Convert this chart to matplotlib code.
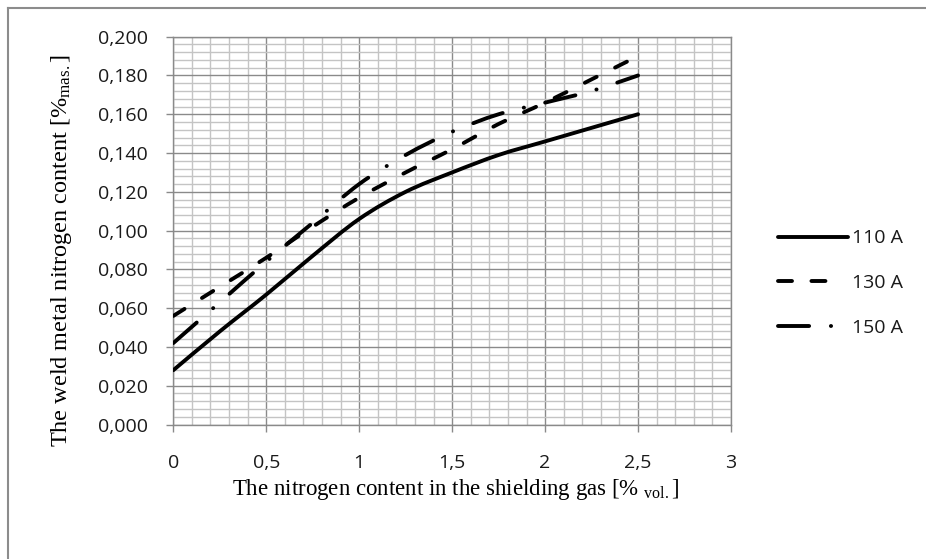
import matplotlib
matplotlib.use("Agg")
import matplotlib.pyplot as plt
from matplotlib.lines import Line2D
from matplotlib.patches import PathPatch
from matplotlib.path import Path
from matplotlib.ticker import MultipleLocator, FuncFormatter

# data
nitrogen_gas = [0, 0.25, 0.5, 0.75, 1.0, 1.25, 1.5, 1.75, 2.0, 2.25, 2.5]
n_110A = [0.028, 0.048, 0.067, 0.087, 0.106, 0.120, 0.130, 0.139, 0.146, 0.153, 0.160]
n_130A = [0.056, 0.071, 0.086, 0.102, 0.117, 0.130, 0.142, 0.155, 0.166, 0.178, 0.190]
n_150A = [0.042, 0.063, 0.084, 0.104, 0.124, 0.139, 0.151, 0.160, 0.166, 0.172, 0.180]
series_labels = ["110 A", "130 A", "150 A"]

TICK_FONT = "Open Sans"
LABEL_FONT = "Liberation Serif"
GRID_MAJOR = "#8a8a8a"
GRID_MINOR = "#c4c4c4"
LW = 2.8
STYLES = ["-", (0, (3.4, 5.3)), (0, (8.0, 5.6, 0.05, 5.6))]
# legend handles: same look, but the dashed one shows only two dashes like Excel
LEG_STYLES = ["-", (0, (3.6, 5.0, 3.6, 30)), (0, (8.0, 5.6, 0.05, 30))]

plt.rcParams["mathtext.fontset"] = "custom"
plt.rcParams["mathtext.rm"] = LABEL_FONT
plt.rcParams["mathtext.it"] = LABEL_FONT + ":italic"


def smooth_path(xs, ys):
    # Excel-like "smoothed line": cubic bezier through the points
    pts = list(zip(xs, ys))
    verts, codes = [pts[0]], [Path.MOVETO]
    n = len(pts)
    for i in range(n - 1):
        p0 = pts[max(i - 1, 0)]
        p1, p2 = pts[i], pts[i + 1]
        p3 = pts[min(i + 2, n - 1)]
        c1 = (p1[0] + (p2[0] - p0[0]) / 6, p1[1] + (p2[1] - p0[1]) / 6)
        c2 = (p2[0] - (p3[0] - p1[0]) / 6, p2[1] - (p3[1] - p1[1]) / 6)
        verts += [c1, c2, p2]
        codes += [Path.CURVE4] * 3
    return Path(verts, codes)


W, H = 926, 559
fig = plt.figure(figsize=(W / 100, H / 100), dpi=100)
# plot area in pixels: x 173..731, y 37..424
left, right, top, bottom = 173.3, 731.0, 36.7, 424.5
ax = fig.add_axes([left / W, 1 - bottom / H, (right - left) / W, (bottom - top) / H])

handles = []
for ys, ls, lls, lab in zip([n_110A, n_130A, n_150A], STYLES, LEG_STYLES, series_labels):
    patch = PathPatch(smooth_path(nitrogen_gas, ys), fill=False, edgecolor="black",
                      lw=LW, linestyle=ls, capstyle="round", zorder=3)
    ax.add_patch(patch)
    handles.append(Line2D([], [], color="black", lw=LW, linestyle=lls,
                          dash_capstyle="round", solid_capstyle="round", label=lab))

ax.set_xlim(0, 3)
ax.set_ylim(0, 0.2)
ax.xaxis.set_major_locator(MultipleLocator(0.5))
ax.xaxis.set_minor_locator(MultipleLocator(0.1))
ax.yaxis.set_major_locator(MultipleLocator(0.02))
ax.yaxis.set_minor_locator(MultipleLocator(0.004))

ax.xaxis.set_major_formatter(FuncFormatter(lambda v, p: f"{v:g}".replace(".", ",")))
ax.yaxis.set_major_formatter(FuncFormatter(lambda v, p: f"{v:.3f}".replace(".", ",")))

ax.grid(which="major", color=GRID_MAJOR, lw=1.0, zorder=1)
ax.grid(which="minor", color=GRID_MINOR, lw=1.0, zorder=0)
ax.set_axisbelow(True)

for s in ax.spines.values():
    s.set_color(GRID_MAJOR)
    s.set_linewidth(1.0)

ax.tick_params(axis="both", which="minor", length=0)
ax.tick_params(axis="y", which="major", direction="out", length=5, width=1,
               color=GRID_MAJOR, pad=13.5, labelsize=14)
ax.tick_params(axis="x", which="major", direction="out", length=5, width=1,
               color=GRID_MAJOR, pad=16, labelsize=14)
for t in ax.get_xticklabels() + ax.get_yticklabels():
    t.set_fontfamily(TICK_FONT)
    t.set_color("#1a1a1a")

ax.set_ylabel(r"The weld metal nitrogen content [%$_{\mathrm{mas.}}$]",
              fontfamily=LABEL_FONT, fontsize=17.5, va="center")
ax.yaxis.set_label_coords((62 - left) / (right - left), (bottom - 251) / (bottom - top))
ax.set_xlabel(r"The nitrogen content in the shielding gas [% $_{\mathrm{vol.}}$]",
              fontfamily=LABEL_FONT, fontsize=16.5, va="center")
ax.xaxis.set_label_coords((456 - left) / (right - left), (bottom - 490) / (bottom - top))

leg = ax.legend(handles=handles, loc="center left",
                bbox_to_anchor=(778 / W, 1 - 283 / H),
                bbox_transform=fig.transFigure, frameon=False, borderpad=0,
                borderaxespad=0, handlelength=3.6, handletextpad=0.22,
                labelspacing=1.37, prop={"family": TICK_FONT, "size": 14})
for t in leg.get_texts():
    t.set_color("#1a1a1a")

# outer chart border (only top and left visible in the crop)
fig.add_artist(Line2D([8 / W, 8 / W], [0, 1 - 8 / H], color="#8c8c8c", lw=1.5,
                      transform=fig.transFigure))
fig.add_artist(Line2D([8 / W, 1], [1 - 8 / H, 1 - 8 / H], color="#8c8c8c", lw=1.5,
                      transform=fig.transFigure))

fig.savefig("out.png", dpi=100, facecolor="white")
